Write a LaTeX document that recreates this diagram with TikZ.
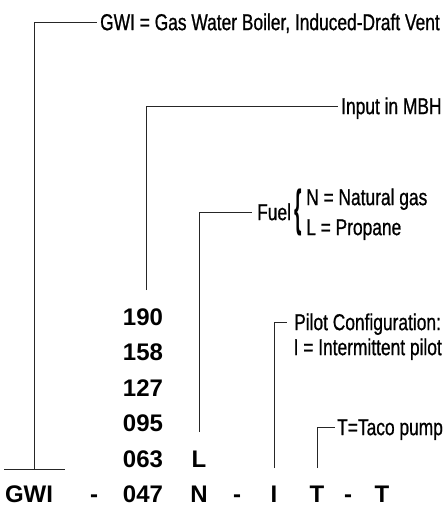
\documentclass[tikz,border=0pt]{standalone}
\usepackage{fontspec}
\newfontfamily\condfont[FakeStretch=0.755,FakeBold=0.8]{Liberation Sans}
\newfontfamily\codefont{Liberation Sans}
\usetikzlibrary{positioning}
\tikzset{
  lbl/.style={font=\condfont\fontsize{23}{27}\selectfont,inner sep=0pt,text height=16.3pt,text depth=0pt},
  code/.style={font=\codefont\bfseries\fontsize{24}{28}\selectfont,inner sep=0pt,text height=17pt,text depth=0pt},
  lead/.style={line width=0.75pt,black!85}
}

\begin{document}
\begin{tikzpicture}[x=1pt,y=-1pt]
\useasboundingbox (0,0) rectangle (446,506);
% bottom row of the model number
\node[code] (gwi) at (29,494) {GWI};
\node[code] (d1) at (94,494) {-};
\node[code] (c047) at (143,494) {047};
\node[code] (fn) at (199,494) {N};
\node[code] (d2) at (237,494) {-};
\node[code] (pi) at (274,494) {I};
\node[code] (tt) at (317,494) {T};
\node[code] (d3) at (348,494) {-};
\node[code] (t2) at (382,494) {T};
% sizes and fuels stacked above
\node[code,above=18.1pt of c047] (c063) {063};
\node[code,above=18.1pt of c063] (c095) {095};
\node[code,above=18.1pt of c095] (c127) {127};
\node[code,above=18.1pt of c127] (c158) {158};
\node[code,above=18.1pt of c158] (c190) {190};
\node[code,above=18.1pt of fn] (fl) {L};
% labels
\node[lbl,anchor=west] (gwilbl) at (100,22) {GWI = Gas Water Boiler, Induced-Draft Vent};
\node[lbl,anchor=west] (inlbl) at (341,106) {Input in MBH};
\node[lbl,anchor=west] (fuel) at (257,212) {Fuel};
\node[inner sep=0pt,anchor=west] (brace) at (294,212) {\scalebox{0.8}[2.1]{\codefont\bfseries\fontsize{24}{28}\selectfont\{}};
\node[lbl,anchor=west] (ng) at (306,197) {N = Natural gas};
\node[lbl,anchor=west] (lp) at (306,227) {L = Propane};
\node[lbl,anchor=west] (pilot) at (294,322) {Pilot Configuration:};
\node[lbl,anchor=east] (ipilot) at (442,347) {I = Intermittent pilot};
\node[lbl,anchor=west] (taco) at (337,427) {T=Taco pump};
% leader ends
\coordinate (bar-l) at (4,469);
\coordinate (bar-r) at (65,469);
\coordinate (gwi-end) at (34,469);
\coordinate (in-end) at (146,290);
\coordinate (fuel-end) at (199,432);
\coordinate (pi-end) at (274,468);
\coordinate (tt-end) at (317,468);
% leaders
\draw[lead] (bar-l) -- (bar-r);
\draw[lead] (gwi-end) |- ([xshift=-3pt]gwilbl.west);
\draw[lead] (in-end) |- ([xshift=-3pt]inlbl.west);
\draw[lead] (fuel-end) |- ([xshift=-5pt]fuel.west);
\draw[lead] (pi-end) |- ([xshift=-7pt]pilot.west);
\draw[lead] (tt-end) |- ([xshift=-2pt]taco.west);
\end{tikzpicture}
\end{document}
